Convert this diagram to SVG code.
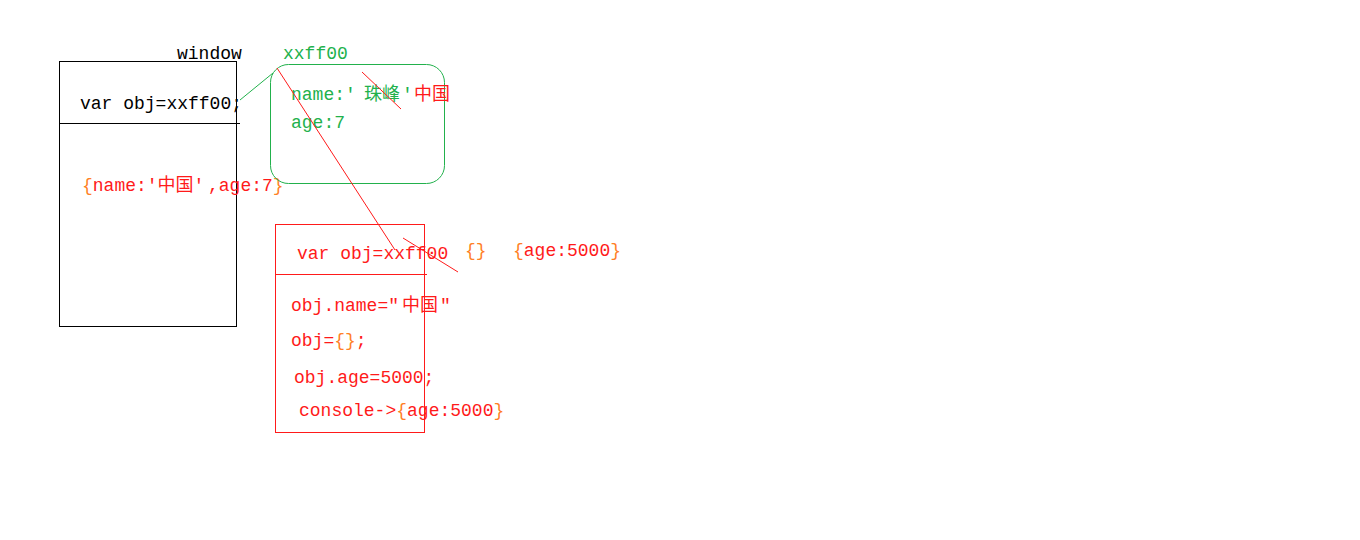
<svg xmlns="http://www.w3.org/2000/svg" width="1360" height="540" viewBox="0 0 1360 540">
<style>
text{font-family:"Liberation Mono","Noto Sans CJK SC",monospace;font-size:18px}
.k{fill:#000}
.g{fill:#22b14c}
.r{fill:#ff1a1a}
.o{fill:#ff7f27}
.box{fill:none;stroke-width:1}
</style>
<rect width="1360" height="540" fill="#fff"/>
<g id="window">
<rect class="box" x="59.5" y="61.5" width="177" height="265" stroke="#000"/>
<line x1="60" y1="123.5" x2="240" y2="123.5" stroke="#000"/>
<text class="k" x="177" y="59">window</text>
<text class="k" x="80" y="109">var obj=xxff00;</text>
<text class="r" x="82" y="191"><tspan class="o">{</tspan>name:'中国'<tspan x="208">,age:7</tspan><tspan class="o">}</tspan></text>
</g>
<g id="heap">
<rect class="box" x="270.5" y="64.5" width="174" height="119" rx="18" stroke="#22b14c"/>
<text class="g" x="283" y="59">xxff00</text>
<text class="g" x="291" y="100">name:'<tspan x="364">珠峰</tspan><tspan x="402">'</tspan><tspan class="r" x="414">中国</tspan></text>
<text class="g" x="291" y="128">age:7</text>
</g>
<g id="func">
<rect class="box" x="275.5" y="224.5" width="149" height="208" stroke="#ff1a1a"/>
<line x1="275" y1="274.5" x2="427" y2="274.5" stroke="#ff1a1a"/>
<text class="r" x="297" y="259">var obj=xxff00</text>
<text class="o" x="465" y="256">{}</text>
<text class="o" x="513" y="256">{<tspan class="r">age:5000</tspan>}</text>
<text class="r" x="291" y="311">obj.name="<tspan x="402">中国</tspan><tspan x="440">"</tspan></text>
<text class="r" x="291" y="346">obj=<tspan class="o">{}</tspan>;</text>
<text class="r" x="294" y="383">obj.age=5000;</text>
<text class="r" x="299" y="416">console-&gt;<tspan class="o">{</tspan>age:5000<tspan class="o">}</tspan></text>
</g>
<g id="connectors" fill="none" stroke-width="1">
<line x1="240" y1="100" x2="273" y2="73" stroke="#22b14c"/>
<line x1="362" y1="72" x2="401" y2="109" stroke="#ff1a1a"/>
<line x1="277" y1="68" x2="395" y2="250" stroke="#ff1a1a"/>
<line x1="403" y1="238" x2="458" y2="272" stroke="#ff1a1a"/>
</g>
</svg>
